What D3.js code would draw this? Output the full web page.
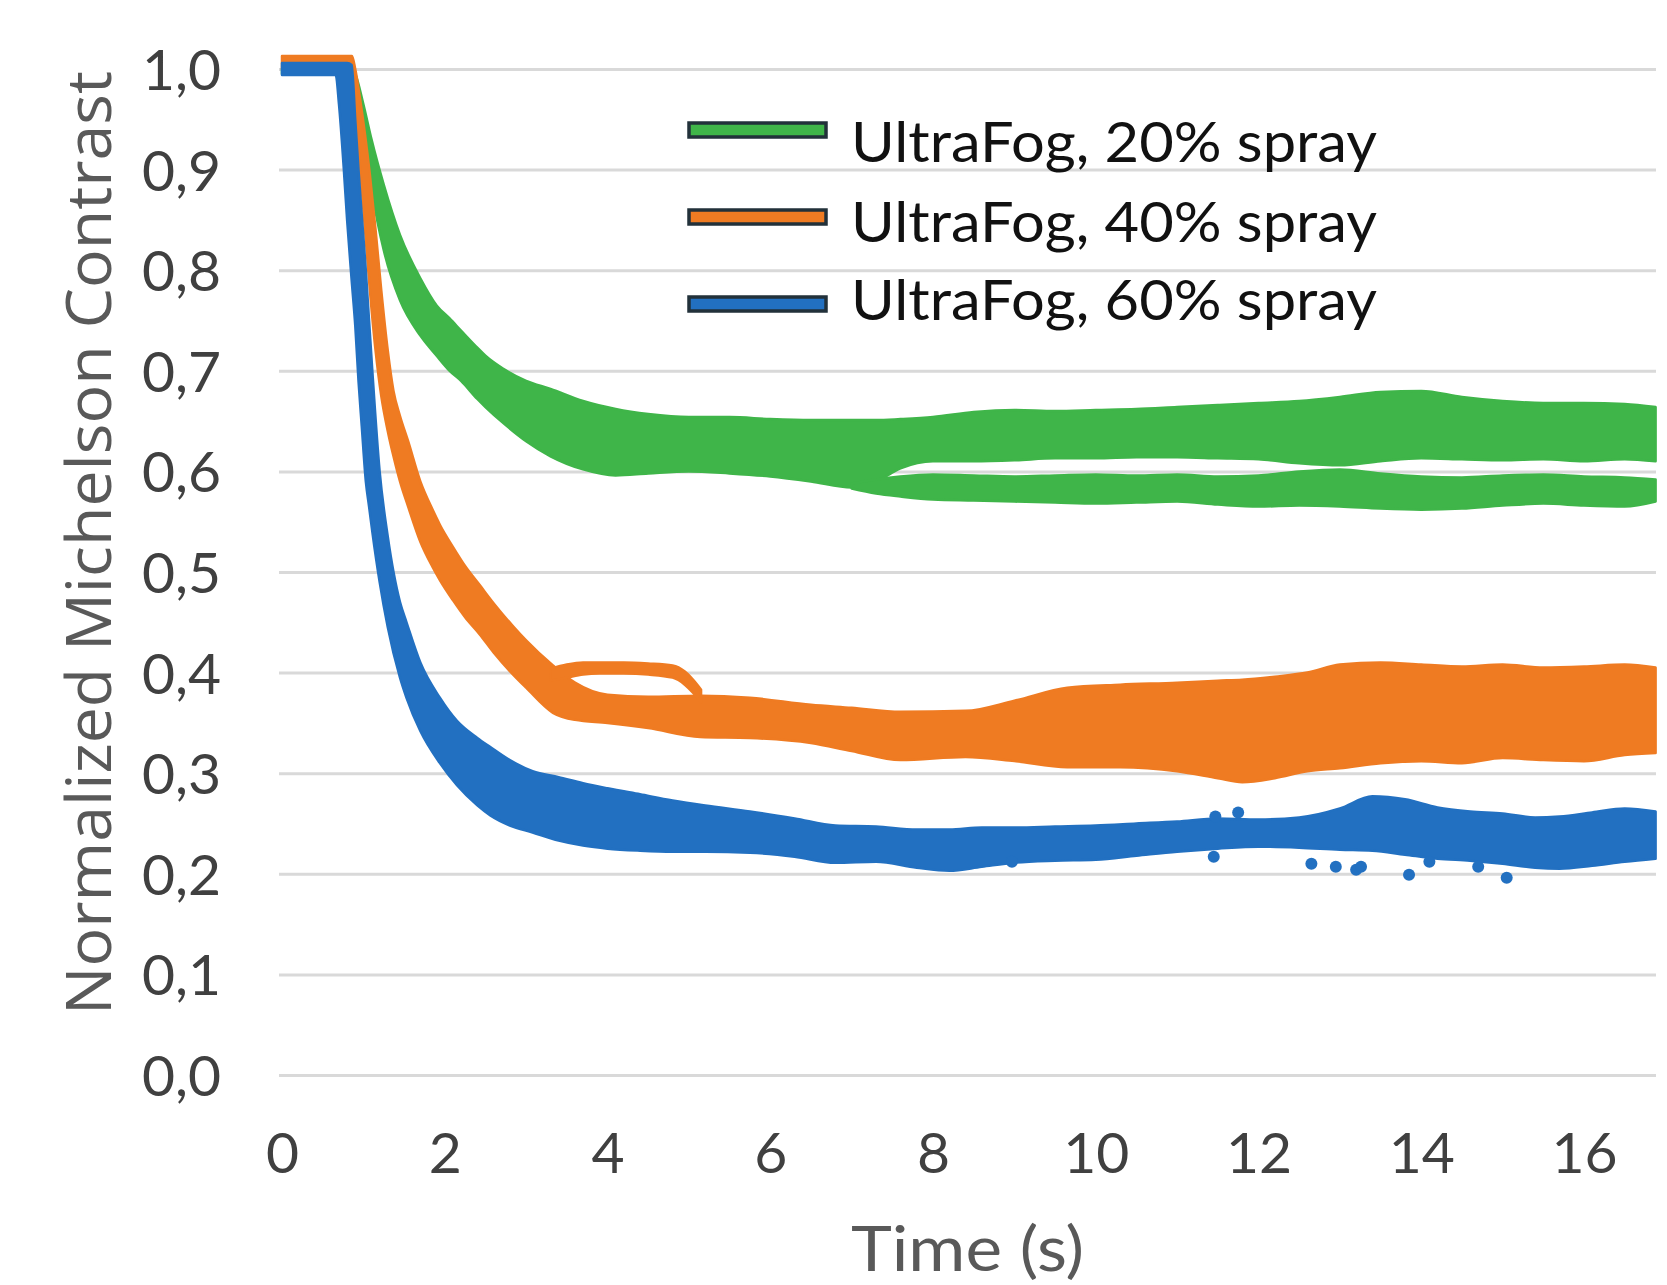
<!DOCTYPE html>
<html>
<head>
<meta charset="utf-8">
<script src="https://cdn.jsdelivr.net/npm/d3@7"></script>
<style>
  html, body { margin: 0; padding: 0; background: #ffffff; }
  svg { display: block; }
</style>
</head>
<body>
<svg id="chart" width="1667" height="1285"></svg>
<script>
// ---------------- DATA ----------------
const xTicks = [0, 2, 4, 6, 8, 10, 12, 14, 16];
const yTicks = [0, 0.1, 0.2, 0.3, 0.4, 0.5, 0.6, 0.7, 0.8, 0.9, 1.0];
const yTickLabels = ["0,0", "0,1", "0,2", "0,3", "0,4", "0,5", "0,6", "0,7", "0,8", "0,9", "1,0"];
const xTitle = "Time (s)";
const yTitle = "Normalized Michelson Contrast";
const seriesNames = ["UltraFog, 20% spray", "UltraFog, 40% spray", "UltraFog, 60% spray"];
const seriesColors = ["#3fb549", "#ef7b22", "#2270c1"];

// UltraFog 20% spray: envelope (upper / lower) of the bundle of repeated runs
const g20_t  = [0, 0.85, 0.9, 1.0, 1.1, 1.25, 1.45, 1.7, 1.9, 2.06, 2.2, 2.4, 2.5, 2.72, 3.0, 3.3, 3.7, 4.1, 4.5, 5.0, 5.5, 6.0, 6.5, 7.0, 7.3, 7.6, 8.0, 8.5, 9.0, 9.5, 10.0, 10.5, 11.0, 11.5, 12.0, 12.5, 13.0, 13.5, 14.0, 14.5, 15.0, 15.5, 16.0, 16.5, 16.88];
const g20_hi = [1.0, 1.0, 0.995, 0.965, 0.93, 0.885, 0.835, 0.792, 0.765, 0.752, 0.74, 0.723, 0.715, 0.702, 0.69, 0.682, 0.67, 0.662, 0.657, 0.654, 0.654, 0.652, 0.651, 0.651, 0.651, 0.652, 0.654, 0.659, 0.661, 0.66, 0.661, 0.662, 0.664, 0.666, 0.668, 0.67, 0.674, 0.679, 0.68, 0.674, 0.67, 0.668, 0.668, 0.667, 0.664];
const g20_lo = [0.995, 0.995, 0.97, 0.93, 0.88, 0.82, 0.77, 0.735, 0.715, 0.7, 0.69, 0.672, 0.664, 0.648, 0.63, 0.615, 0.602, 0.596, 0.598, 0.6, 0.598, 0.595, 0.59, 0.584, 0.59, 0.603, 0.61, 0.61, 0.611, 0.613, 0.613, 0.614, 0.614, 0.613, 0.612, 0.608, 0.606, 0.61, 0.613, 0.612, 0.611, 0.612, 0.61, 0.612, 0.61];
// 20% spray: lower group of runs that splits off after ~7 s
const g20b_t  = [7.0, 7.3, 7.6, 8.0, 8.5, 9.0, 9.5, 10.0, 10.5, 11.0, 11.5, 12.0, 12.5, 13.0, 13.5, 14.0, 14.5, 15.0, 15.5, 16.0, 16.5, 16.88];
const g20b_hi = [0.588, 0.592, 0.595, 0.597, 0.596, 0.595, 0.596, 0.597, 0.596, 0.597, 0.595, 0.596, 0.6, 0.602, 0.598, 0.595, 0.594, 0.596, 0.597, 0.595, 0.594, 0.592];
const g20b_lo = [0.583, 0.578, 0.575, 0.572, 0.571, 0.57, 0.569, 0.568, 0.569, 0.57, 0.567, 0.565, 0.566, 0.565, 0.563, 0.562, 0.563, 0.566, 0.568, 0.566, 0.565, 0.57];

// UltraFog 40% spray
const o40_t  = [0, 0.86, 0.9, 0.96, 1.02, 1.08, 1.15, 1.22, 1.3, 1.37, 1.45, 1.55, 1.7, 1.85, 1.94, 2.1, 2.25, 2.43, 2.6, 2.84, 3.0, 3.33, 3.6, 4.0, 4.5, 5.14, 5.75, 6.5, 7.0, 7.6, 8.4, 9.0, 9.65, 10.3, 11.0, 11.5, 11.8, 12.2, 12.6, 13.0, 13.5, 14.0, 14.5, 15.0, 15.5, 16.0, 16.5, 16.88];
const o40_hi = [1.013, 1.013, 1.0, 0.97, 0.935, 0.895, 0.84, 0.78, 0.72, 0.68, 0.655, 0.63, 0.59, 0.562, 0.547, 0.525, 0.506, 0.487, 0.469, 0.446, 0.432, 0.407, 0.39, 0.378, 0.376, 0.377, 0.375, 0.368, 0.365, 0.361, 0.362, 0.372, 0.385, 0.388, 0.39, 0.392, 0.393, 0.396, 0.4, 0.408, 0.41, 0.408, 0.406, 0.408, 0.405, 0.406, 0.408, 0.405];
const o40_lo = [1.0, 0.998, 0.96, 0.9, 0.84, 0.78, 0.72, 0.675, 0.64, 0.615, 0.59, 0.565, 0.53, 0.505, 0.492, 0.472, 0.455, 0.438, 0.42, 0.398, 0.385, 0.36, 0.353, 0.35, 0.345, 0.336, 0.335, 0.33, 0.322, 0.313, 0.316, 0.312, 0.306, 0.306, 0.302, 0.295, 0.291, 0.295, 0.302, 0.305, 0.31, 0.312, 0.31, 0.315, 0.313, 0.312, 0.318, 0.32];
// 40% spray: single run that loops above the bundle around 4 s
const o40l_t  = [3.3, 3.5, 3.7, 3.9, 4.2, 4.5, 4.8, 4.95, 5.05, 5.15];
const o40l_hi = [0.404, 0.408, 0.41, 0.41, 0.41, 0.409, 0.407, 0.401, 0.393, 0.383];
const o40l_lo = [0.392, 0.395, 0.398, 0.399, 0.399, 0.398, 0.395, 0.388, 0.38, 0.37];

// UltraFog 60% spray
const b60_t  = [0, 0.66, 0.7, 0.76, 0.8, 0.856, 0.9, 0.94, 0.98, 1.03, 1.07, 1.11, 1.2, 1.3, 1.45, 1.53, 1.7, 1.94, 2.15, 2.4, 2.56, 2.8, 3.08, 3.4, 3.7, 4.0, 4.4, 4.8, 5.2, 5.75, 6.3, 6.8, 7.3, 7.8, 8.2, 8.6, 9.0, 9.5, 10.0, 10.5, 11.0, 11.5, 12.0, 12.5, 13.0, 13.4, 13.8, 14.2, 14.6, 15.0, 15.4, 15.7, 16.1, 16.5, 16.88];
const b60_hi = [1.006, 1.006, 1.006, 1.006, 1.006, 1.004, 0.95, 0.9, 0.855, 0.8, 0.75, 0.7, 0.6, 0.535, 0.47, 0.45, 0.41, 0.375, 0.352, 0.335, 0.326, 0.313, 0.302, 0.296, 0.29, 0.285, 0.279, 0.273, 0.268, 0.262, 0.255, 0.248, 0.247, 0.244, 0.244, 0.246, 0.246, 0.247, 0.248, 0.25, 0.252, 0.255, 0.254, 0.256, 0.265, 0.277, 0.274, 0.266, 0.262, 0.26, 0.256, 0.257, 0.261, 0.265, 0.262];
const b60_lo = [0.994, 0.994, 0.965, 0.9, 0.85, 0.79, 0.745, 0.69, 0.645, 0.59, 0.565, 0.54, 0.49, 0.445, 0.395, 0.375, 0.342, 0.31, 0.288, 0.268, 0.258, 0.248, 0.241, 0.233, 0.228, 0.225, 0.223, 0.222, 0.222, 0.221, 0.217, 0.211, 0.212, 0.206, 0.203, 0.207, 0.211, 0.213, 0.214, 0.218, 0.222, 0.225, 0.227, 0.226, 0.224, 0.223, 0.219, 0.215, 0.213, 0.21, 0.206, 0.205, 0.208, 0.212, 0.215];
// 60% spray: isolated outlier samples
const b60d_t = [8.97, 11.45, 11.47, 11.75, 12.65, 12.95, 13.2, 13.26, 13.85, 14.1, 14.7, 15.05];
const b60d_v = [0.212, 0.217, 0.257, 0.261, 0.21, 0.207, 0.204, 0.207, 0.199, 0.212, 0.207, 0.196];

// ---------------- CHART ----------------
const svg = d3.select("#chart");
svg.append("rect").attr("width", 1667).attr("height", 1285).attr("fill", "#ffffff");

const x = d3.scaleLinear().domain([0, 16.88]).range([282, 1655.6]);
const y = d3.scaleLinear().domain([0, 1]).range([1075, 69]);

// gridlines
const grid = svg.append("g").attr("transform", "translate(279,0)")
  .call(d3.axisLeft(y).tickValues(yTicks).tickSize(-(1656 - 279)).tickFormat(""));
grid.select(".domain").remove();
grid.selectAll("line").attr("stroke", "#d9d9d9").attr("stroke-width", 3);

// y tick labels
const yAx = svg.append("g").attr("transform", "translate(221,0)")
  .call(d3.axisLeft(y).tickValues(yTicks).tickSize(0).tickPadding(0)
        .tickFormat((d, i) => yTickLabels[i]));
yAx.select(".domain").remove();
yAx.selectAll("text")
  .attr("x", 0).attr("dy", "0.36em")
  .attr("font-family", "Lato, 'Open Sans', sans-serif")
  .attr("font-size", 57).attr("fill", "#404040").attr("text-anchor", "end");

// x tick labels
const xAx = svg.append("g").attr("transform", "translate(0,1173)")
  .call(d3.axisBottom(x).tickValues(xTicks).tickSize(0).tickPadding(0).tickFormat(d3.format("d")));
xAx.select(".domain").remove();
xAx.selectAll("text")
  .attr("y", 0).attr("dy", 0)
  .attr("font-family", "Lato, 'Open Sans', sans-serif")
  .attr("font-size", 57).attr("fill", "#404040");

// series bands
const zip = (t, hi, lo) => t.map((tt, i) => ({ t: tt, hi: hi[i], lo: lo[i] }));
const area = d3.area()
  .x(d => x(d.t)).y0(d => y(d.lo)).y1(d => y(d.hi))
  .curve(d3.curveMonotoneX);

const strands = [
  { s: 0, d: zip(g20_t, g20_hi, g20_lo) },
  { s: 0, d: zip(g20b_t, g20b_hi, g20b_lo) },
  { s: 1, d: zip(o40_t, o40_hi, o40_lo) },
  { s: 1, d: zip(o40l_t, o40l_hi, o40l_lo) },
  { s: 2, d: zip(b60_t, b60_hi, b60_lo) }
];

svg.append("g").selectAll("path").data(strands).join("path")
  .attr("d", d => area(d.d))
  .attr("fill", d => seriesColors[d.s])
  .attr("stroke", d => seriesColors[d.s])
  .attr("stroke-width", 2.5)
  .attr("stroke-linejoin", "round");

svg.append("g").selectAll("circle").data(b60d_t.map((t, i) => ({ t, v: b60d_v[i] }))).join("circle")
  .attr("cx", d => x(d.t)).attr("cy", d => y(d.v)).attr("r", 6)
  .attr("fill", seriesColors[2]);

// legend
const swatchY = [130, 217, 304];
const textY = [162, 242, 320];
const leg = svg.append("g");
leg.selectAll("rect").data(seriesNames).join("rect")
  .attr("x", 689).attr("y", (d, i) => swatchY[i] - 7)
  .attr("width", 137).attr("height", 14)
  .attr("fill", (d, i) => seriesColors[i])
  .attr("stroke", "#22313a").attr("stroke-width", 3.5);
leg.selectAll("text").data(seriesNames).join("text")
  .attr("x", 851).attr("y", (d, i) => textY[i])
  .attr("font-family", "Lato, 'Open Sans', sans-serif")
  .attr("font-size", 56).attr("fill", "#111111")
  .text(d => d)
  .each(function () {
    const w = this.getComputedTextLength();
    if (Math.abs(w - 526) > 6) d3.select(this).attr("textLength", 526).attr("lengthAdjust", "spacingAndGlyphs");
  });

// axis titles
svg.append("text")
  .attr("x", 851).attr("y", 1271)
  .attr("font-family", "Lato, 'Open Sans', sans-serif")
  .attr("font-size", 62).attr("fill", "#595959")
  .text(xTitle)
  .each(function () {
    const w = this.getComputedTextLength();
    if (Math.abs(w - 233) > 4) d3.select(this).attr("textLength", 233).attr("lengthAdjust", "spacingAndGlyphs");
  });

svg.append("text")
  .attr("transform", "translate(111,543) rotate(-90)")
  .attr("text-anchor", "middle")
  .attr("font-family", "'Open Sans', 'DejaVu Sans', sans-serif")
  .attr("font-size", 63).attr("fill", "#595959")
  .text(yTitle)
  .each(function () {
    const w = this.getComputedTextLength();
    if (Math.abs(w - 944) > 4) d3.select(this).attr("textLength", 944).attr("lengthAdjust", "spacingAndGlyphs");
  });
</script>
</body>
</html>
